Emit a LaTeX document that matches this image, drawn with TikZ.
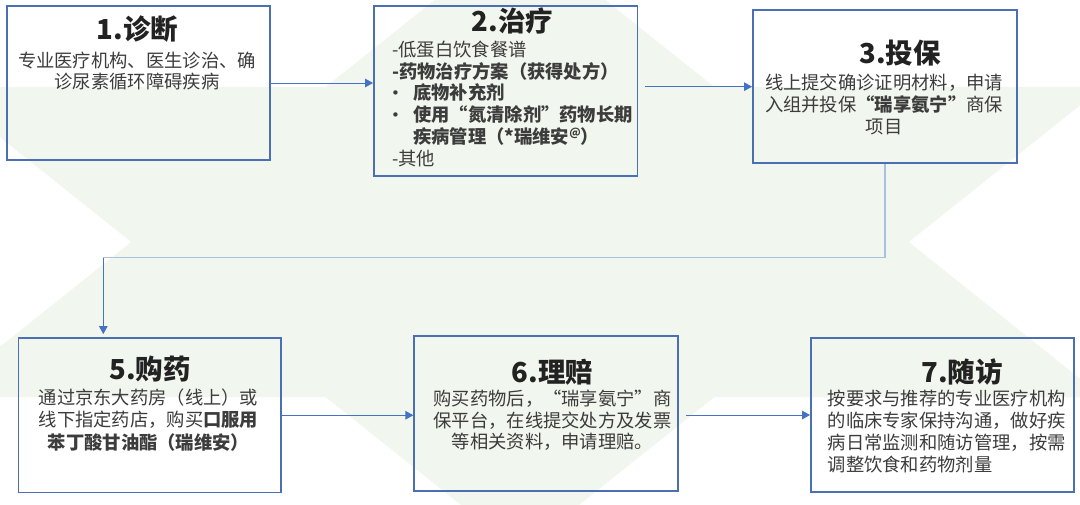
\documentclass[tikz,border=0pt]{standalone}
\usepackage{fontspec}
\setmainfont{Noto Sans CJK SC}
\newfontfamily\bulfont{DejaVu Sans}
\usetikzlibrary{arrows.meta}
\definecolor{bgreen}{HTML}{F1F6EE}
\definecolor{boxblue}{HTML}{4A6FB5}
\definecolor{arrblue}{HTML}{4472C4}
\definecolor{lightblue}{HTML}{A9C1E0}
\definecolor{bodygray}{HTML}{3C3C3C}
\definecolor{titleblack}{HTML}{222222}
\newcommand\supat{\raisebox{6.5pt}{\fontsize{11}{11}\selectfont @}}
\tikzset{
  box/.style={draw=boxblue, line width=1.8pt, fill=none, inner sep=0pt},
  conn/.style={draw=arrblue, line width=1pt, -{Triangle[length=8pt,width=8.5pt]}},
  elbowline/.style={draw=lightblue, line width=1.6pt},
  ttl/.style={font=\fontsize{27.5}{30}\selectfont\bfseries, text=titleblack, inner sep=0pt, anchor=base},
  bodyc/.style={font=\fontsize{18.3}{22}\selectfont, text=bodygray, inner sep=0pt, anchor=base},
  bodyl/.style={font=\fontsize{18.3}{22}\selectfont, text=bodygray, inner sep=0pt, anchor=base west},
  bul/.style={font=\bulfont\fontsize{15}{18}\selectfont, text=bodygray, inner sep=0pt, anchor=base},
}
\begin{document}
\begin{tikzpicture}[x=1pt,y=-1pt]
\useasboundingbox (0,0) rectangle (1080,504);
\begin{scope}
\clip (0,0) rectangle (1080,504);
\fill[white] (0,0) rectangle (1080,504);
\fill[bgreen] (520,-68) -- (1103,397) -- (-63,397) -- cycle;
\fill[bgreen] (-63,87) -- (1103,87) -- (520,552) -- cycle;
\end{scope}

% boxes
\node[box, minimum width=263pt, minimum height=154pt] (b1) at (138.5,83) {};
\node[box, minimum width=263.5pt, minimum height=170pt] (b2) at (505.75,91) {};
\node[box, minimum width=264pt, minimum height=153.3pt] (b3) at (885,86.65) {};
\node[box, minimum width=262.5pt, minimum height=154.5pt] (b5) at (149.75,415.25) {};
\node[box, minimum width=263.7pt, minimum height=155pt] (b6) at (546.15,413.5) {};
\node[box, minimum width=263pt, minimum height=154pt] (b7) at (942.5,415) {};

% box 1
\node[ttl] (t1) at (137.5,39.5) {1.诊断};
\node[bodyc] (t1a) at (137,67) {专业医疗机构、医生诊治、确};
\node[bodyc] (t1b) at (137,88) {诊尿素循环障碍疾病};

% box 2
\node[ttl] (t2) at (512.5,31) {2.治疗};
\node[bodyl] (t2a) at (392,56) {-低蛋白饮食餐谱};
\node[bodyl] (t2b) at (392,78) {\textbf{-药物治疗方案（获得处方）}};
\node[bul] (u2c) at (395.5,98) {•};
\node[bodyl] (t2c) at (413,99) {\textbf{底物补充剂}};
\node[bul] (u2d) at (395.5,120) {•};
\node[bodyl] (t2d) at (413,121) {\textbf{使用“氮清除剂”药物长期}};
\node[bodyl] (t2e) at (413,143) {\textbf{疾病管理（*瑞维安\supat）}};
\node[bodyl] (t2f) at (392,165) {-其他};

% box 3
\node[ttl] (t3) at (900,63.5) {3.投保};
\node[bodyc] (t3a) at (884,89) {线上提交确诊证明材料，申请};
\node[bodyc] (t3b) at (884,111.5) {入组并投保\textbf{“瑞享氨宁”}商保};
\node[bodyc] (t3c) at (884,133) {项目};

% box 5
\node[ttl] (t5) at (150,379.5) {5.购药};
\node[bodyc] (t5a) at (148.5,404.5) {通过京东大药房（线上）或};
\node[bodyc] (t5b) at (148.5,426.5) {线下指定药店，购买\textbf{口服用}};
\node[bodyc] (t5c) at (148.5,449) {\textbf{苯丁酸甘油酯（瑞维安）}};

% box 6
\node[ttl] (t6) at (552.5,382.5) {6.理赔};
\node[bodyc] (t6a) at (552.5,405) {购买药物后，“瑞享氨宁”商};
\node[bodyc] (t6b) at (552.5,427) {保平台，在线提交处方及发票};
\node[bodyc] (t6c) at (552.5,448.7) {等相关资料，申请理赔。};

% box 7
\node[ttl] (t7) at (962,382.5) {7.随访};
\node[bodyl] (t7a) at (827.5,405) {按要求与推荐的专业医疗机构};
\node[bodyl] (t7b) at (827.5,427.5) {的临床专家保持沟通，做好疾};
\node[bodyl] (t7c) at (827.5,449.5) {病日常监测和随访管理，按需};
\node[bodyl] (t7d) at (827.5,471) {调整饮食和药物剂量};

% connectors
\draw[conn] (b1.east) -- (b1.east -| b2.west);
\draw[conn, shorten <=7pt] (b2.east |- b3.west) -- (b3.west);
\coordinate (k) at (103.3,257.5);
\draw[elbowline] (b3.south) |- (k);
\draw[conn, shorten >=3pt] (k) -- (k |- b5.north);
\draw[conn] (b5.east) -- (b5.east -| b6.west);
\draw[conn, shorten <=7pt] (b6.east |- b7.west) -- (b7.west);
\end{tikzpicture}
\end{document}
